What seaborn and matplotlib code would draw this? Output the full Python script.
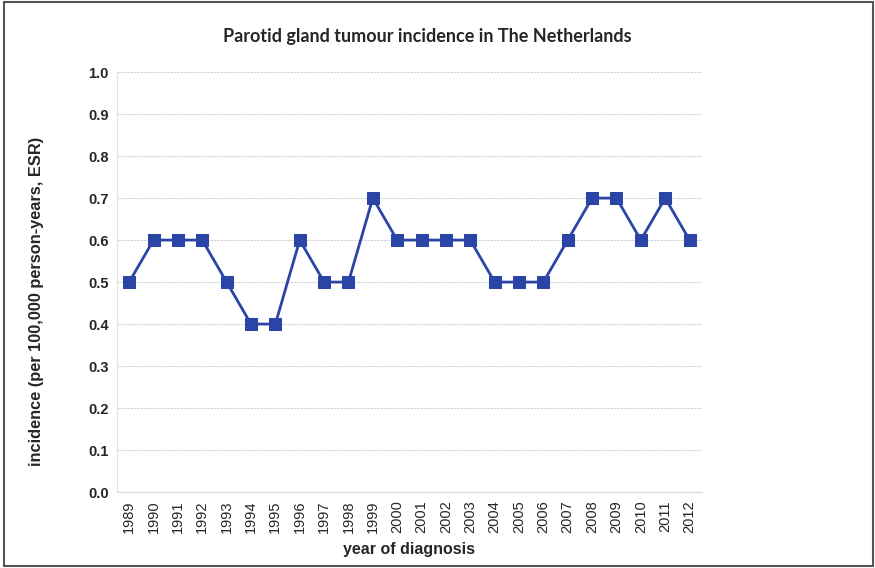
import numpy as np
import pandas as pd
import matplotlib
matplotlib.use('Agg')
import matplotlib.pyplot as plt
import seaborn as sns

sns.set_style('white')
plt.rcParams['font.family'] = ['Liberation Sans', 'DejaVu Sans']

years = list(range(1989, 2013))
incidence = [0.5, 0.6, 0.6, 0.6, 0.5, 0.4, 0.4, 0.6, 0.5, 0.5, 0.7, 0.6,
             0.6, 0.6, 0.6, 0.5, 0.5, 0.5, 0.6, 0.7, 0.7, 0.6, 0.7, 0.6]
yticks = [0.0, 0.1, 0.2, 0.3, 0.4, 0.5, 0.6, 0.7, 0.8, 0.9, 1.0]

df = pd.DataFrame({'year': years, 'incidence': incidence})

fig = plt.figure(figsize=(8.75, 5.68), dpi=100)
ax = fig.add_axes([0.1337, 0.1338, 0.802 - 0.1337, 0.873 - 0.1338])

# grid lines
for y in yticks:
    ax.axhline(y, color='#d0d0d0', lw=0.8, ls=(0, (2, 1)), zorder=0)

sns.lineplot(data=df, x='year', y='incidence', ax=ax, color='#2b45a6', lw=2,
             marker='s', markersize=9, markeredgecolor='#2b45a6', zorder=3)

ax.set_xlim(1988.5, 2012.5)
ax.set_ylim(0, 1.0)
ax.set_yticks(yticks)
ax.set_yticklabels([f'{v:.1f}' for v in yticks], fontsize=10.5, fontweight='bold')
ax.set_xticks(years)
ax.set_xticklabels([str(y) for y in years], rotation=90, fontsize=10.5)
ax.tick_params(axis='both', length=0, pad=6)

for s in ['top', 'right']:
    ax.spines[s].set_visible(False)
ax.spines['left'].set_color('#e0e0e0')
ax.spines['bottom'].set_color('#d8d8d8')
ax.spines['left'].set_linewidth(0.8)
ax.spines['bottom'].set_linewidth(0.8)

ax.set_xlabel('year of diagnosis', fontsize=11.5, fontweight='bold', labelpad=6)
ax.set_ylabel('incidence (per 100,000 person-years, ESR)', fontsize=11.8,
              fontweight='bold')
ax.yaxis.set_label_coords(-0.125, 0.455)
ax.set_title('Parotid gland tumour incidence in The Netherlands',
             fontsize=13, fontweight='bold', family=['Lato', 'DejaVu Sans'],
             pad=22, x=0.53)

# outer frame
fig.patches.append(plt.Rectangle((0.004, 0.004), 0.994, 0.992,
                                 transform=fig.transFigure, fill=False,
                                 edgecolor='#555555', lw=1.5))

fig.savefig('out.png', dpi=100)
